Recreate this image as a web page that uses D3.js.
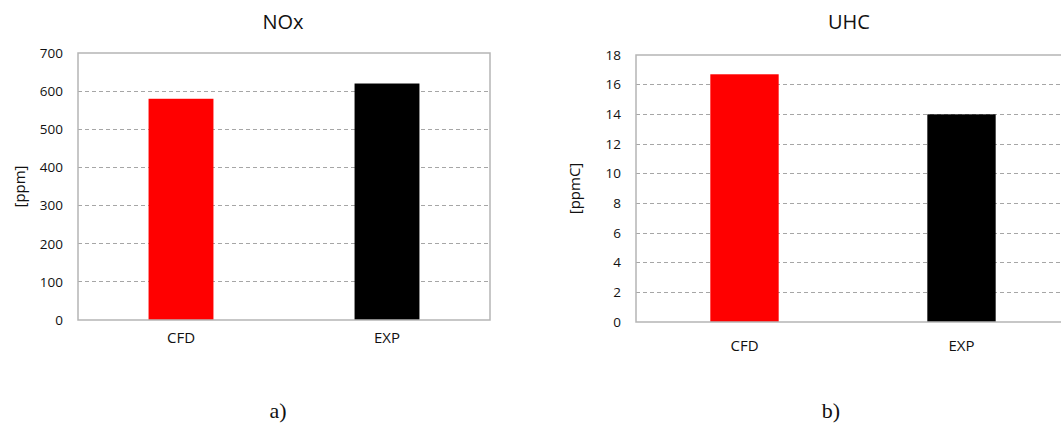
<!DOCTYPE html>
<html>
<head>
<meta charset="utf-8">
<script src="https://cdn.jsdelivr.net/npm/d3@7"></script>
<style>
  html, body { margin: 0; padding: 0; background: #fff; }
  svg { display: block; }
  text { font-family: "Open Sans", "DejaVu Sans", sans-serif; fill: #111; }
</style>
</head>
<body>
<svg id="chart" width="1061" height="423"></svg>
<script>
// Categories shared by both panels
const categories = ["CFD", "EXP"];
const barColors = ["#ff0000", "#000000"];

// NOx panel
const noxValues = [580, 620];
const noxTicks = [0, 100, 200, 300, 400, 500, 600, 700];

// UHC panel
const uhcValues = [16.7, 14.0];
const uhcTicks = [0, 2, 4, 6, 8, 10, 12, 14, 16, 18];

const svg = d3.select("#chart");
svg.append("rect").attr("width", 1061).attr("height", 423).attr("fill", "#fff");

function panel(cfg) {
  const g = svg.append("g");
  const x = d3.scaleBand()
    .domain(categories)
    .range([cfg.left, cfg.right])
    .paddingInner(0.685)
    .paddingOuter(0.3425);
  const y = d3.scaleLinear()
    .domain([0, d3.max(cfg.ticks)])
    .range([cfg.bottom, cfg.top]);

  // dashed horizontal gridlines
  g.append("g")
    .selectAll("line")
    .data(cfg.ticks.filter(t => t > 0 && t < d3.max(cfg.ticks)))
    .join("line")
    .attr("x1", cfg.left).attr("x2", cfg.right)
    .attr("y1", d => y(d)).attr("y2", d => y(d))
    .attr("stroke", "#a6a6a6")
    .attr("stroke-width", 1)
    .attr("stroke-dasharray", "4,3")
    .attr("shape-rendering", "crispEdges");

  // bars
  g.append("g")
    .selectAll("rect")
    .data(cfg.values)
    .join("rect")
    .attr("x", (d, i) => x(categories[i]))
    .attr("width", x.bandwidth())
    .attr("y", d => y(d))
    .attr("height", d => cfg.bottom - y(d))
    .attr("fill", (d, i) => barColors[i]);

  // plot frame
  g.append("rect")
    .attr("x", cfg.left).attr("y", cfg.top)
    .attr("width", cfg.right - cfg.left)
    .attr("height", cfg.bottom - cfg.top)
    .attr("fill", "none")
    .attr("stroke", "#b5b5b5")
    .attr("stroke-width", 1.5);

  // y axis labels
  const yAxis = d3.axisLeft(y).tickValues(cfg.ticks).tickSize(0).tickPadding(15);
  const ya = g.append("g").attr("transform", `translate(${cfg.left},0)`).call(yAxis);
  ya.select(".domain").remove();
  ya.selectAll("text")
    .style("font-family", '"Open Sans", sans-serif')
    .style("font-size", "13.5px")
    .attr("fill", "#111");

  // x axis labels
  const xAxis = d3.axisBottom(x).tickSize(0).tickPadding(cfg.xPad);
  const xa = g.append("g").attr("transform", `translate(0,${cfg.bottom})`).call(xAxis);
  xa.select(".domain").remove();
  xa.selectAll("text")
    .style("font-family", '"Open Sans", sans-serif')
    .style("font-size", "15px")
    .attr("fill", "#111");

  // title
  g.append("text")
    .attr("x", cfg.titleX).attr("y", 29)
    .attr("text-anchor", "middle")
    .style("font-size", "20px")
    .text(cfg.title);

  // y axis title
  g.append("text")
    .attr("transform", `translate(${cfg.ylabX},${(cfg.top + cfg.bottom) / 2}) rotate(-90)`)
    .attr("text-anchor", "middle")
    .attr("dy", "0.35em")
    .style("font-size", "15px")
    .text(cfg.ylab);

  // panel caption
  g.append("text")
    .attr("x", cfg.capX).attr("y", 418)
    .attr("text-anchor", "middle")
    .style("font-family", '"Liberation Serif", "Times New Roman", serif')
    .style("font-size", "22px")
    .attr("fill", "#111")
    .text(cfg.caption);
}

panel({
  left: 78, right: 490, top: 53, bottom: 320,
  values: noxValues, ticks: noxTicks,
  title: "NOx", titleX: 283, ylab: "[ppm]", ylabX: 20,
  caption: "a)", capX: 278, xPad: 12
});

panel({
  left: 636, right: 1070, top: 55, bottom: 322,
  values: uhcValues, ticks: uhcTicks,
  title: "UHC", titleX: 849, ylab: "[ppmC]", ylabX: 575,
  caption: "b)", capX: 831, xPad: 18
});
</script>
</body>
</html>
